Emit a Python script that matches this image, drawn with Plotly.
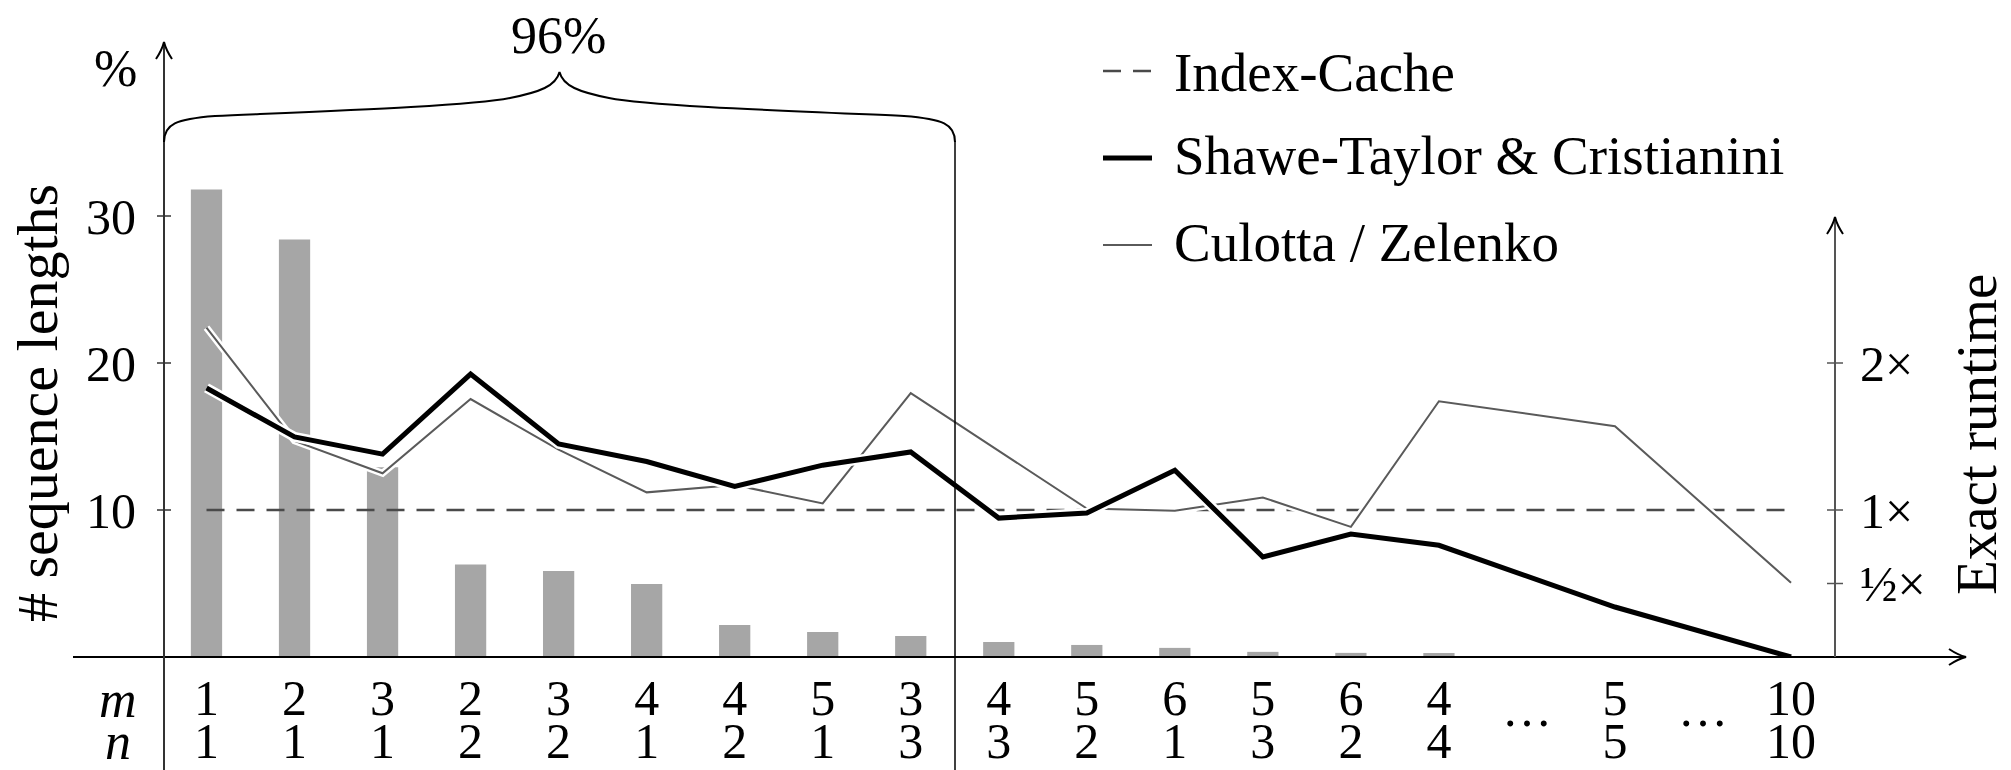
import plotly.graph_objects as go

# ---------------- data ----------------
CAT_M = ["1", "2", "3", "2", "3", "4", "4", "5", "3", "4", "5", "6", "5", "6", "4", "…", "5", "…", "10"]
CAT_N = ["1", "1", "1", "2", "2", "1", "2", "1", "3", "3", "2", "1", "3", "2", "4", "…", "5", "…", "10"]
SEQ_PCT = [31.8, 28.4, 12.9, 6.3, 5.85, 4.97, 2.18, 1.7, 1.43, 1.02, 0.82, 0.62, 0.35, 0.28, 0.27,
           None, None, None, None]
INDEX_CACHE = [1.0] * 15 + [None, 1.0, None, 1.0]
SHAWE_TAYLOR = [1.83, 1.497, 1.38, 1.925, 1.45, 1.33, 1.16, 1.305, 1.395, 0.945, 0.98, 1.27, 0.68,
                0.837, 0.76, None, 0.34, None, 0.0]
CULOTTA = [2.24, 1.47, 1.25, 1.755, 1.41, 1.12, 1.17, 1.045, 1.795, 1.40, 1.01, 0.995, 1.085,
           0.885, 1.74, None, 1.57, None, 0.505]
LEFT_TICKS = [10, 20, 30]
RIGHT_TICKS = [0.5, 1, 2]
RIGHT_TICK_TEXT = ["½×", "1×", "2×"]
NAMES = ["Index-Cache", "Shawe-Taylor & Cristianini", "Culotta / Zelenko"]

FONT = "Liberation Serif, Times New Roman, serif"
W, H = 2011, 770
L, R, T, B = 164, 176, 43, 113
PW, PH = W - L - R, H - T - B
SLOT_PX = 88.03
FIRST_PX = 206.5
X_RANGE = [(L - FIRST_PX) / SLOT_PX, (L + PW - FIRST_PX) / SLOT_PX]
Y_RANGE = [0, PH / 14.7]
Y2_RANGE = [0, PH / 147.0]

slots = list(range(len(CAT_M)))
label_slots = [i for i, c in enumerate(CAT_M) if c != "…"]
dot_slots = [i for i, c in enumerate(CAT_M) if c == "…"]


def fx(p):
    return (p - L) / PW


def fy(p):
    return (T + PH - p) / PH


fig = go.Figure()

fig.add_trace(go.Bar(x=slots, y=SEQ_PCT, width=0.355, marker=dict(color="#a6a6a6", line=dict(width=0)),
                     xaxis="x", yaxis="y", showlegend=False, hoverinfo="skip"))

fig.add_trace(go.Scatter(x=slots, y=INDEX_CACHE, mode="lines", connectgaps=True, name=NAMES[0],
                         line=dict(color="#4a4a4a", width=2.5, dash="18px,12px"),
                         xaxis="x", yaxis="y2", showlegend=False))

for ys, col, w, halo, name in [(CULOTTA, "#5a5a5a", 2, 7, NAMES[2]),
                                (SHAWE_TAYLOR, "#000000", 5, 10, NAMES[1])]:
    fig.add_trace(go.Scatter(x=slots, y=ys, mode="lines", connectgaps=True,
                             line=dict(color="white", width=halo),
                             xaxis="x", yaxis="y2", showlegend=False, hoverinfo="skip"))
    fig.add_trace(go.Scatter(x=slots, y=ys, mode="lines", connectgaps=True, name=name,
                             line=dict(color=col, width=w),
                             xaxis="x", yaxis="y2", showlegend=False))

# invisible carriers so the extra category rows (n values, dots) get drawn
for xa in ["x2", "x3"]:
    fig.add_trace(go.Scatter(x=slots, y=[None] * len(slots), mode="markers", xaxis=xa, yaxis="y",
                             showlegend=False, hoverinfo="skip", marker=dict(opacity=0)))

shapes = []
LINE_BLACK = dict(color="black", width=2)
shapes.append(dict(type="line", xref="paper", yref="paper", x0=fx(73), x1=fx(1963), y0=0, y1=0,
                   line=LINE_BLACK))
shapes.append(dict(type="line", xref="paper", yref="paper", x0=0, x1=0, y0=fy(770), y1=fy(45),
                   line=dict(color="#333333", width=2)))
shapes.append(dict(type="line", xref="paper", yref="paper", x0=1, x1=1, y0=0, y1=fy(220),
                   line=dict(color="#555555", width=2)))
shapes.append(dict(type="line", xref="paper", yref="paper", x0=fx(955), x1=fx(955), y0=fy(141), y1=fy(770),
                   line=dict(color="black", width=1.5)))


def path(cmds):
    out = []
    for c in cmds:
        if isinstance(c, str):
            out.append(c)
        else:
            out.append(f"{fx(c[0]):.5f},{fy(c[1]):.5f}")
    return " ".join(out)


brace = path(["M", (164, 142), "C", (164, 124), (176, 119), (215, 116),
              "C", (330, 111), (470, 106), (510, 98),
              "C", (540, 92), (556, 86), (559.5, 72),
              "C", (563, 86), (579, 92), (609, 98),
              "C", (649, 106), (789, 111), (904, 116),
              "C", (943, 119), (955, 124), (955, 142)])
shapes.append(dict(type="path", xref="paper", yref="paper", path=brace,
                   line=dict(color="black", width=2)))
arrows = [
    path(["M", (1949, 649), "Q", (1958, 655), (1966, 657), "Q", (1958, 659), (1949, 665)]),
    path(["M", (156, 59), "Q", (162, 50), (164, 42), "Q", (166, 50), (172, 59)]),
    path(["M", (1827, 234), "Q", (1833, 225), (1835, 217), "Q", (1837, 225), (1843, 234)]),
]
for a in arrows:
    shapes.append(dict(type="path", xref="paper", yref="paper", path=a, line=dict(color="black", width=2)))
for v in LEFT_TICKS:
    shapes.append(dict(type="line", xref="paper", yref="y", x0=fx(157), x1=fx(171), y0=v, y1=v,
                       line=dict(color="#333333", width=1.5)))
for v in RIGHT_TICKS:
    shapes.append(dict(type="line", xref="paper", yref="y2", x0=fx(1827), x1=fx(1843), y0=v, y1=v,
                       line=dict(color="#555555", width=1.5)))
# legend samples
shapes.append(dict(type="line", xref="paper", yref="paper", x0=fx(1103), x1=fx(1152), y0=fy(71), y1=fy(71),
                   line=dict(color="#4a4a4a", width=2.5, dash="18px,12px")))
shapes.append(dict(type="line", xref="paper", yref="paper", x0=fx(1103), x1=fx(1152), y0=fy(158), y1=fy(158),
                   line=dict(color="black", width=5)))
shapes.append(dict(type="line", xref="paper", yref="paper", x0=fx(1103), x1=fx(1152), y0=fy(245), y1=fy(245),
                   line=dict(color="#5a5a5a", width=2)))

ann = []
TXT = dict(family=FONT, size=55, color="black")
for name, yy in zip(NAMES, [72, 155, 242]):
    ann.append(dict(text=name, xref="paper", yref="paper", x=fx(1172), y=fy(yy), xanchor="left",
                    yanchor="middle", showarrow=False, font=TXT))
ann.append(dict(text="96%", xref="paper", yref="paper", x=fx(558), y=fy(35), xanchor="center",
                yanchor="middle", showarrow=False, font=dict(family=FONT, size=52, color="black")))
ann.append(dict(text="%", xref="paper", yref="paper", x=fx(115), y=fy(68), xanchor="center",
                yanchor="middle", showarrow=False, font=dict(family=FONT, size=52, color="black")))
ann.append(dict(text="# sequence lengths", xref="paper", yref="paper", x=fx(37), y=fy(403), textangle=-90,
                xanchor="center", yanchor="middle", showarrow=False,
                font=dict(family=FONT, size=58, color="black")))
ann.append(dict(text="Exact runtime", xref="paper", yref="paper", x=fx(1976), y=fy(435), textangle=-90,
                xanchor="center", yanchor="middle", showarrow=False,
                font=dict(family=FONT, size=57, color="black")))
ann.append(dict(text="<i>m</i>", xref="paper", yref="paper", x=fx(118), y=fy(699), xanchor="center",
                yanchor="middle", showarrow=False, font=dict(family=FONT, size=52, color="black")))
ann.append(dict(text="<i>n</i>", xref="paper", yref="paper", x=fx(118), y=fy(741), xanchor="center",
                yanchor="middle", showarrow=False, font=dict(family=FONT, size=52, color="black")))

TICKFONT = dict(family=FONT, size=50, color="black")
common_x = dict(range=X_RANGE, showgrid=False, zeroline=False, showline=False, ticks="", tickfont=TICKFONT,
                fixedrange=True, automargin=False)
fig.update_layout(
    width=W, height=H, margin=dict(l=L, r=R, t=T, b=B, pad=0, autoexpand=False),
    paper_bgcolor="white", plot_bgcolor="white", showlegend=False,
    font=dict(family=FONT, color="black"),
    xaxis=dict(**common_x, tickmode="array", tickvals=label_slots,
               ticktext=[CAT_M[i] for i in label_slots], ticklabelstandoff=7),
    xaxis2=dict(**common_x, overlaying="x", anchor="y", side="bottom", tickmode="array",
                tickvals=label_slots, ticktext=[CAT_N[i] for i in label_slots], ticklabelstandoff=50),
    xaxis3=dict(**common_x, overlaying="x", anchor="y", side="bottom", tickmode="array",
                tickvals=dot_slots, ticktext=[CAT_M[i] for i in dot_slots], ticklabelstandoff=18),
    yaxis=dict(range=Y_RANGE, showgrid=False, zeroline=False, showline=False, ticks="", automargin=False,
               tickmode="array", tickvals=LEFT_TICKS, tickfont=TICKFONT, ticklabelstandoff=27),
    yaxis2=dict(range=Y2_RANGE, overlaying="y", side="right", anchor="x", showgrid=False, zeroline=False,
                showline=False, ticks="", tickmode="array", tickvals=RIGHT_TICKS, ticktext=RIGHT_TICK_TEXT,
                tickfont=TICKFONT, ticklabelstandoff=24, automargin=False),
    shapes=shapes, annotations=ann,
)
fig.write_html("out.html")
